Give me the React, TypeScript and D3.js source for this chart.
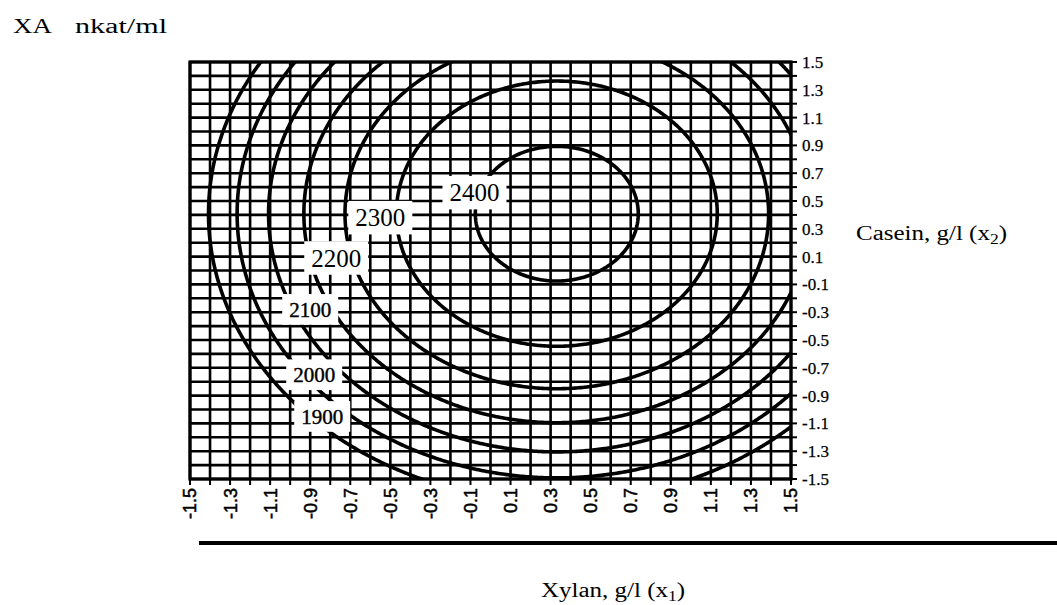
import React, { useMemo } from 'react'
import * as d3 from 'd3'

// response surface: XA = b0 + b1 x1 + b2 x2 + b11 x1^2 + b22 x2^2 + b12 x1 x2
const coefTerms = ['b0', 'b1', 'b2', 'b11', 'b22', 'b12']
const coefValues = [2387, 139, 121, -210, -148, 0]

const levels = [1800, 1900, 2000, 2100, 2200, 2300, 2400]

// inline contour labels (value, x1, x2 where the label box sits)
const labelValues = [2400, 2300, 2200, 2100, 2000, 1900]
const labelX1 = [-0.08, -0.55, -0.77, -0.9, -0.88, -0.84]
const labelX2 = [0.56, 0.38, 0.09, -0.28, -0.75, -1.05]

const xTickLabels = [-1.5, -1.3, -1.1, -0.9, -0.7, -0.5, -0.3, -0.1, 0.1, 0.3, 0.5, 0.7, 0.9, 1.1, 1.3, 1.5]
const yTickLabels = [1.5, 1.3, 1.1, 0.9, 0.7, 0.5, 0.3, 0.1, -0.1, -0.3, -0.5, -0.7, -0.9, -1.1, -1.3, -1.5]
const gridSteps = d3.range(-15, 16).map(i => i / 10)

const W = 1057, H = 605
const plot = { left: 190, right: 791, top: 62, bottom: 479 }
const serif = '"Liberation Serif", "Times New Roman", serif'
const sans = '"Liberation Sans", Arial, sans-serif'

function App() {
  const x = d3.scaleLinear().domain([-1.5, 1.5]).range([plot.left, plot.right])
  const y = d3.scaleLinear().domain([-1.5, 1.5]).range([plot.bottom, plot.top])

  const coef = Object.fromEntries(coefTerms.map((t, i) => [t, coefValues[i]]))
  const xa = (x1, x2) =>
    coef.b0 + coef.b1 * x1 + coef.b2 * x2 + coef.b11 * x1 * x1 + coef.b22 * x2 * x2 + coef.b12 * x1 * x2

  const contourPaths = useMemo(() => {
    // sample a bit past the frame so the rings' border edges fall outside the clip
    const lo = -1.6, step = 0.01
    const n = Math.round((2 * -lo) / step) + 1
    const values = new Array(n * n)
    for (let j = 0; j < n; j++) {
      for (let i = 0; i < n; i++) {
        values[j * n + i] = xa(lo + i * step, -lo - j * step)
      }
    }
    const contours = d3.contours().size([n, n]).thresholds(levels)(values)
    const proj = d3.geoTransform({
      point: function (cx, cy) {
        this.stream.point(x(lo + (cx - 0.5) * step), y(-lo - (cy - 0.5) * step))
      }
    })
    const path = d3.geoPath(proj)
    return contours.map(c => ({ value: c.value, d: path(c) }))
  }, [])

  return (
    <svg width={W} height={H} viewBox={`0 0 ${W} ${H}`}
      style={{ position: 'absolute', left: 0, top: 0, background: '#fff' }}>
      <defs>
        <clipPath id="plotClip">
          <rect x={plot.left} y={plot.top} width={plot.right - plot.left} height={plot.bottom - plot.top} />
        </clipPath>
      </defs>

      {/* title */}
      <text x={13} y={33} fontFamily={serif} fontSize={20} textLength={39} lengthAdjust="spacingAndGlyphs">XA</text>
      <text x={75} y={33} fontFamily={serif} fontSize={20} textLength={92} lengthAdjust="spacingAndGlyphs">nkat/ml</text>

      {/* grid */}
      <g stroke="#000" strokeWidth={2.6}>
        {gridSteps.map(v => (
          <line key={'v' + v} x1={x(v)} x2={x(v)} y1={plot.top} y2={plot.bottom} />
        ))}
        {gridSteps.map(v => (
          <line key={'h' + v} x1={plot.left} x2={plot.right} y1={y(v)} y2={y(v)} />
        ))}
      </g>

      {/* contours */}
      <g clipPath="url(#plotClip)" fill="none" stroke="#000" strokeWidth={3.6} strokeLinejoin="round">
        {contourPaths.map(c => <path key={c.value} d={c.d} />)}
      </g>

      {/* frame */}
      <rect x={plot.left} y={plot.top} width={plot.right - plot.left} height={plot.bottom - plot.top}
        fill="none" stroke="#000" strokeWidth={3.2} />

      {/* ticks */}
      <g stroke="#000" strokeWidth={2}>
        {gridSteps.map(v => <line key={'rt' + v} x1={plot.right} x2={plot.right + 6} y1={y(v)} y2={y(v)} />)}
        {gridSteps.map(v => <line key={'bt' + v} x1={x(v)} x2={x(v)} y1={plot.bottom} y2={plot.bottom + 6} />)}
      </g>
      {yTickLabels.map(v => (
        <text key={'yl' + v} x={plot.right + 11} y={y(v)} dy="0.35em" fontFamily={serif} fontSize={17}
          stroke="#000" strokeWidth={0.25}>
          {v.toFixed(1)}
        </text>
      ))}
      {xTickLabels.map(v => (
        <text key={'xl' + v} transform={`translate(${x(v)},${plot.bottom + 9}) rotate(-90)`}
          dy="0.36em" textAnchor="end" fontFamily={sans} fontSize={18} stroke="#000" strokeWidth={0.5}>
          {v.toFixed(1)}
        </text>
      ))}

      {/* contour labels */}
      {labelValues.map((v, i) => {
        const big = v >= 2200
        const fs = big ? 25 : 21
        const w = fs * 2 + 14
        const h = fs * 0.7 + 16
        const cx = x(labelX1[i]), cy = y(labelX2[i])
        return (
          <g key={'lab' + v}>
            <rect x={cx - w / 2} y={cy - h / 2} width={w} height={h} fill="#fff" />
            <text x={cx} y={cy} dy="0.35em" textAnchor="middle" fontFamily={serif} fontSize={fs}
              stroke="#000" strokeWidth={big ? 0 : 0.4}>{v}</text>
          </g>
        )
      })}

      {/* axis titles */}
      <g transform="translate(856,240) scale(1.25,1)">
        <text fontFamily={serif} fontSize={20}>
          Casein, g/l (x<tspan fontSize={14} dy={4}>2</tspan><tspan dy={-4}>)</tspan>
        </text>
      </g>
      <line x1={199} x2={W} y1={543} y2={543} stroke="#000" strokeWidth={4} />
      <g transform="translate(541,597) scale(1.25,1)">
        <text fontFamily={serif} fontSize={20}>
          Xylan, g/l (x<tspan fontSize={14} dy={4}>1</tspan><tspan dy={-4}>)</tspan>
        </text>
      </g>
    </svg>
  )
}

export default App
